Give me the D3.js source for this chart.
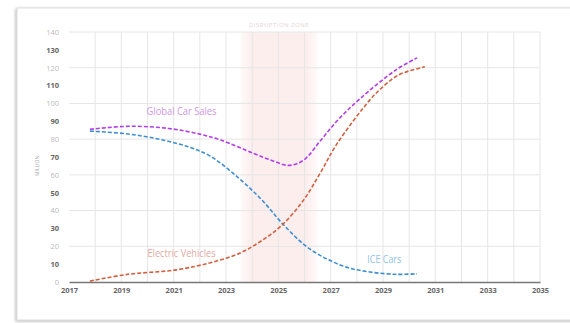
<!DOCTYPE html>
<html>
<head>
<meta charset="utf-8">
<script src="https://cdn.jsdelivr.net/npm/d3@7.9.0/dist/d3.min.js"></script>
<style>
  body { margin: 0; background: #fff; }
  text { font-family: "Open Sans", "DejaVu Sans", sans-serif; }
</style>
</head>
<body>
<div id="chart"></div>
<script>
const width = 570;
const height = 323;
const margin = { top: 32, right: 30, bottom: 41, left: 69 };

// data (million units)
const globalYears = [2017.8, 2019.3, 2020.8, 2022.0, 2022.8, 2024.06, 2024.8, 2025.4, 2025.97, 2026.6, 2027.25, 2028.15, 2029.5, 2030.3];
const globalSales = [85.5, 87.2, 86, 82.8, 79.5, 72, 67.8, 65.3, 68.3, 79, 90.3, 103, 118.8, 125.5];

const evYears = [2017.8, 2019.2, 2021.1, 2022.4, 2023.5, 2024.4, 2025.15, 2025.97, 2026.6, 2027.25, 2028.5, 2028.9, 2029.6, 2030.6];
const evSales = [0.5, 4.2, 6.8, 10.8, 16, 23.5, 32, 46, 61, 77.6, 102, 108, 116, 120.5];

const iceYears = [2017.8, 2019.2, 2020.5, 2021.6, 2022.4, 2023.5, 2024.4, 2025.2, 2026.2, 2027.5, 2028.5, 2029.5, 2030.3];
const iceSales = [84.5, 83, 79.8, 75.5, 70.5, 58, 45.5, 32, 18.5, 8.8, 5.6, 4.3, 4.6];

const yTicks = [0, 10, 20, 30, 40, 50, 60, 70, 80, 90, 100, 110, 120, 130, 140];
const xTicks = [2017, 2019, 2021, 2023, 2025, 2027, 2029, 2031, 2033, 2035];
const zone = [2023.55, 2026.5];
const zoneLabel = "DISRUPTION ZONE";

const svg = d3.select("#chart").append("svg")
  .attr("width", width)
  .attr("height", height);

const defs = svg.append("defs");
const shadow = defs.append("filter").attr("id", "shadow")
  .attr("x", "-5%").attr("y", "-5%").attr("width", "110%").attr("height", "110%");
shadow.append("feDropShadow").attr("dx", -1).attr("dy", 1).attr("stdDeviation", 1.5)
  .attr("flood-color", "#888").attr("flood-opacity", 0.6);

const grad = defs.append("linearGradient").attr("id", "zoneGrad");
grad.append("stop").attr("offset", "0%").attr("stop-color", "#fdeeee").attr("stop-opacity", 0.3);
grad.append("stop").attr("offset", "15%").attr("stop-color", "#fdeeee").attr("stop-opacity", 1);
grad.append("stop").attr("offset", "85%").attr("stop-color", "#fdeeee").attr("stop-opacity", 1);
grad.append("stop").attr("offset", "100%").attr("stop-color", "#fdeeee").attr("stop-opacity", 0.3);

// card
svg.append("rect")
  .attr("x", 17).attr("y", 8)
  .attr("width", 570).attr("height", 312)
  .attr("fill", "#fff")
  .attr("stroke", "#ddd")
  .attr("filter", "url(#shadow)");

const x = d3.scaleLinear()
  .domain([2017, 2035])
  .range([margin.left, width - margin.right]);

const y = d3.scaleLinear()
  .domain([0, 140])
  .range([height - margin.bottom, margin.top]);

// shaded zone
svg.append("rect")
  .attr("x", x(zone[0]))
  .attr("y", y(140))
  .attr("width", x(zone[1]) - x(zone[0]))
  .attr("height", y(0) - y(140))
  .attr("fill", "url(#zoneGrad)");

svg.append("text")
  .attr("x", (x(zone[0]) + x(zone[1])) / 2)
  .attr("y", y(140) - 5)
  .attr("text-anchor", "middle")
  .attr("font-size", 6)
  .attr("letter-spacing", 0.5)
  .attr("fill", "#e4d4d4")
  .text(zoneLabel);

// grid
svg.append("g")
  .selectAll("line")
  .data(d3.range(2018, 2036))
  .join("line")
  .attr("x1", d => x(d)).attr("x2", d => x(d))
  .attr("y1", y(140)).attr("y2", y(0))
  .attr("stroke", "#e6e6e6")
  .attr("stroke-width", 1);

svg.append("g")
  .selectAll("line")
  .data(d3.range(20, 141, 20))
  .join("line")
  .attr("x1", x(2017)).attr("x2", x(2035))
  .attr("y1", d => y(d)).attr("y2", d => y(d))
  .attr("stroke", "#e6e6e6")
  .attr("stroke-width", 1);

// axes
const yAxis = svg.append("g")
  .attr("transform", `translate(${margin.left},0)`)
  .call(d3.axisLeft(y).tickValues(yTicks).tickSize(0).tickPadding(10));
yAxis.select(".domain").remove();
yAxis.selectAll("text")
  .attr("font-size", 7.5)
  .attr("font-family", "Open Sans, sans-serif")
  .attr("font-weight", d => (d / 10) % 2 === 1 ? 700 : 400)
  .attr("fill", d => (d / 10) % 2 === 1 ? "#666" : "#bbb");

const xAxis = svg.append("g")
  .attr("transform", `translate(0,${y(0)})`)
  .call(d3.axisBottom(x).tickValues(xTicks).tickFormat(d3.format("d")).tickSize(0).tickPadding(6));
xAxis.select(".domain").attr("stroke", "#777").attr("stroke-width", 1.5);
xAxis.selectAll("text")
  .attr("font-size", 7.5)
  .attr("font-family", "Open Sans, sans-serif")
  .attr("font-weight", 700)
  .attr("fill", "#666");

svg.append("text")
  .attr("transform", `translate(39,${y(65)}) rotate(-90)`)
  .attr("text-anchor", "middle")
  .attr("font-size", 5)
  .attr("fill", "#aaa")
  .text("MILLION");

// lines
const line = d3.line()
  .x(d => x(d[0]))
  .y(d => y(d[1]))
  .curve(d3.curveCatmullRom.alpha(0.5));

const series = [
  { years: iceYears, vals: iceSales, color: "#3d8fd1" },
  { years: evYears, vals: evSales, color: "#d2603f" },
  { years: globalYears, vals: globalSales, color: "#b23ee6" }
];

svg.append("g")
  .selectAll("path")
  .data(series)
  .join("path")
  .attr("d", s => line(d3.zip(s.years, s.vals)))
  .attr("fill", "none")
  .attr("stroke", s => s.color)
  .attr("stroke-width", 1.6)
  .attr("stroke-dasharray", "4,2");

// series labels (condensed look via textLength)
const labels = [
  { text: "Global Car Sales", yr: 2021.3, v: 93.5, w: 70, color: "#cf96e4" },
  { text: "Electric Vehicles", yr: 2021.3, v: 14, w: 68, color: "#e3aaa2" },
  { text: "ICE Cars", yr: 2029.05, v: 10.5, w: 34, color: "#8fc2e4" }
];
svg.append("g")
  .selectAll("text")
  .data(labels)
  .join("text")
  .attr("x", d => x(d.yr) - d.w / 2)
  .attr("y", d => y(d.v))
  .attr("textLength", d => d.w)
  .attr("lengthAdjust", "spacingAndGlyphs")
  .attr("font-family", "'Open Sans', sans-serif")
  .attr("font-size", 11)
  .attr("fill", d => d.color)
  .text(d => d.text);
</script>
</body>
</html>
